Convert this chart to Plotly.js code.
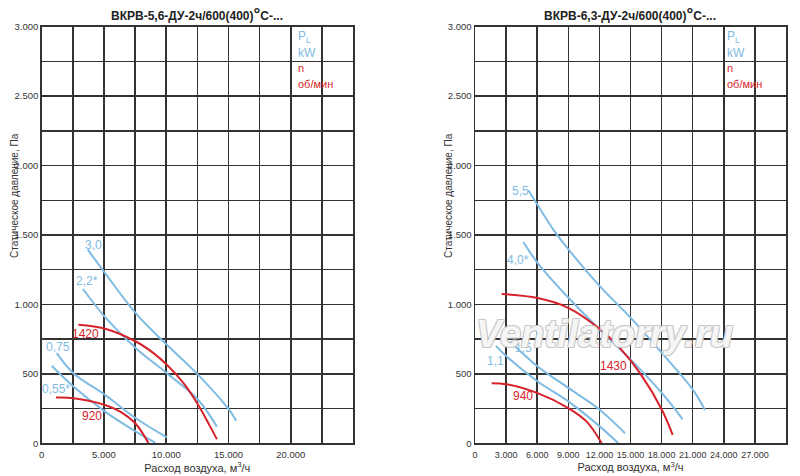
<!DOCTYPE html>
<html>
<head>
<meta charset="utf-8">
<script src="https://cdn.plot.ly/plotly-3.0.1.min.js"></script>
<style>
  html, body { margin: 0; padding: 0; background: #fff; }
  #chart { width: 800px; height: 476px; }
</style>
</head>
<body>
<div id="chart"></div>
<script>
// Left chart: ВКРВ-5,6 (flow m3/h, static pressure Pa)
var p30X  = [3700, 5090, 7560, 10050, 12570, 15060, 15620];
var p30Y  = [1394, 1226, 935, 709, 493, 240, 163];
var p22X  = [3300, 5090, 7560, 10050, 12570, 14070];
var p22Y  = [1113, 909, 685, 505, 312, 120];
var n1420X = [2950, 5090, 7560, 8980, 10050, 11390, 12570, 13530, 14070];
var n1420Y = [853, 825, 733, 649, 565, 433, 276, 120, 29];
var p075X = [1206, 2546, 5090, 7560, 10050];
var p075Y = [649, 505, 349, 180, 43];
var p055X = [804, 2546, 5090, 7560, 9110];
var p055Y = [558, 409, 228, 84, 5];
var n920X = [1150, 2546, 5090, 6300, 7560, 8580];
var n920Y = [329, 325, 276, 228, 139, 0];

// Right chart: ВКРВ-6,3
var p55X  = [5144, 5948, 7555, 9034, 12056, 15046, 18036, 21026, 22180];
var p55Y  = [1822, 1726, 1538, 1394, 1130, 901, 649, 385, 240];
var p40X  = [4662, 6044, 9034, 12056, 15046, 18036, 20030];
var p40Y  = [1450, 1298, 1046, 817, 601, 361, 173];
var n1430X = [2572, 6044, 9034, 12056, 13985, 15914, 18036, 19065];
var n1430Y = [1075, 1046, 974, 822, 685, 505, 240, 60];
var p15X  = [3376, 6044, 9034, 12056, 14467];
var p15Y  = [733, 553, 397, 240, 72];
var p11X  = [2025, 3054, 6044, 9034, 12056, 13825];
var p11Y  = [702, 625, 445, 300, 120, 0];
var n940X = [1608, 3054, 6044, 9034, 10770, 12217];
var n940Y = [433, 425, 361, 252, 156, 0];

// tick labels
var yTickVals = [0, 500, 1000, 1500, 2000, 2500, 3000];
var yTickText = ["0", "500", "1.000", "1.500", "2.000", "2.500", "3.000"];
var x1TickVals = [0, 5000, 10000, 15000, 20000];
var x1TickText = ["0", "5.000", "10.000", "15.000", "20.000"];
var x2TickVals = [0, 3000, 6000, 9000, 12000, 15000, 18000, 21000, 24000, 27000];
var x2TickText = ["0", "3.000", "6.000", "9.000", "12.000", "15.000", "18.000", "21.000", "24.000", "27.000"];

// curve labels
var lab1 = [
  { x: 4150, y: 1430, t: "3,0", c: "blue" },
  { x: 3670, y: 1166, t: "2,2*", c: "blue" },
  { x: 3550, y: 786, t: "1420", c: "red" },
  { x: 1290, y: 692, t: "0,75", c: "blue" },
  { x: 1150, y: 389, t: "0,55*", c: "blue" },
  { x: 4020, y: 197, t: "920", c: "red" }
];
var lab2 = [
  { x: 4340, y: 1817, t: "5,5", c: "blue" },
  { x: 4180, y: 1322, t: "4,0*", c: "blue" },
  { x: 13340, y: 553, t: "1430", c: "red" },
  { x: 4660, y: 685, t: "1,5", c: "blue" },
  { x: 1930, y: 594, t: "1,1", c: "blue" },
  { x: 4600, y: 344, t: "940", c: "red" }
];

var BLUE = "#7fbbe2";
var RED = "#d6232b";
var GRID = "#333333";
var FONT = "'Liberation Sans', Arial, sans-serif";

function curve(x, y, color, xa, ya) {
  return {
    type: "scatter", mode: "lines", x: x, y: y, xaxis: xa, yaxis: ya,
    line: { color: color, width: 2, shape: "spline", smoothing: 1 },
    hoverinfo: "skip", showlegend: false
  };
}

var traces = [
  curve(p30X, p30Y, BLUE, "x", "y"),
  curve(p22X, p22Y, BLUE, "x", "y"),
  curve(p075X, p075Y, BLUE, "x", "y"),
  curve(p055X, p055Y, BLUE, "x", "y"),
  curve(n1420X, n1420Y, RED, "x", "y"),
  curve(n920X, n920Y, RED, "x", "y"),
  curve(p55X, p55Y, BLUE, "x2", "y2"),
  curve(p40X, p40Y, BLUE, "x2", "y2"),
  curve(p15X, p15Y, BLUE, "x2", "y2"),
  curve(p11X, p11Y, BLUE, "x2", "y2"),
  curve(n1430X, n1430Y, RED, "x2", "y2"),
  curve(n940X, n940Y, RED, "x2", "y2")
];

function xAxis(domain, max, minorStep, vals, text, anchor, fs) {
  return {
    domain: domain, range: [0, max], anchor: anchor,
    tickmode: "array", tickvals: vals, ticktext: text, tickangle: 0,
    showgrid: true, gridcolor: GRID, gridwidth: 1.5,
    minor: { dtick: minorStep, tick0: 0, showgrid: true, gridcolor: GRID, gridwidth: 1.5 },
    showline: true, mirror: true, linecolor: GRID, linewidth: 1.5,
    zeroline: false, ticks: "", ticklabelstandoff: 2,
    tickfont: { family: FONT, size: fs, color: "#333" },
    title: { text: "Расход воздуха, м<sup>3</sup>/ч", font: { family: FONT, size: 11, color: "#333" }, standoff: 0 },
    fixedrange: true
  };
}

function yAxis(anchor) {
  return {
    domain: [0.0687, 0.944], range: [0, 3000], anchor: anchor,
    tickmode: "array", tickvals: yTickVals, ticktext: yTickText,
    showgrid: true, gridcolor: GRID, gridwidth: 1.5,
    minor: { dtick: 250, tick0: 0, showgrid: true, gridcolor: GRID, gridwidth: 1.5 },
    showline: true, mirror: true, linecolor: GRID, linewidth: 1.5,
    zeroline: false, ticks: "", ticklabelstandoff: 0,
    tickfont: { family: FONT, size: 9.5, color: "#333" },
    fixedrange: true
  };
}

var annotations = [];

function addLabels(list, xr, yr) {
  list.forEach(function(l) {
    annotations.push({
      x: l.x, y: l.y, xref: xr, yref: yr, text: l.t, showarrow: false,
      xanchor: "center", yanchor: "middle",
      font: { family: FONT, size: 12, color: l.c === "red" ? RED : BLUE }
    });
  });
}
addLabels(lab1, "x", "y");
addLabels(lab2, "x2", "y2");

function addHeader(cx, legX, title, ytx) {
  annotations.push({
    x: cx / 800, y: 1 - 14 / 476, xref: "paper", yref: "paper", showarrow: false,
    xanchor: "center", yanchor: "middle",
    text: "<b>" + title + "</b>",
    font: { family: FONT, size: 12, color: "#222" }
  });
  var leg = [
    { t: "P<sub>L</sub>", y: 37, c: BLUE, s: 12 },
    { t: "kW", y: 53, c: BLUE, s: 12 },
    { t: "n", y: 68, c: RED, s: 11 },
    { t: "об/мин", y: 84, c: RED, s: 11 }
  ];
  leg.forEach(function(l) {
    annotations.push({
      x: legX / 800, y: 1 - l.y / 476, xref: "paper", yref: "paper", showarrow: false,
      xanchor: "left", yanchor: "middle", text: l.t, font: { family: FONT, size: l.s, color: l.c }
    });
  });
  annotations.push({
    x: ytx / 800, y: 1 - 196 / 476, xref: "paper", yref: "paper", showarrow: false,
    xanchor: "center", yanchor: "middle",
    textangle: -90, text: "Статическое давление, Па",
    font: { family: FONT, size: 10, color: "#333" }
  });
}
addHeader(197, 296, "ВКРВ-5,6-ДУ-2ч/600(400)<span style='font-size:17px'>°</span>С-...", 14);
addHeader(630, 725, "ВКРВ-6,3-ДУ-2ч/600(400)<span style='font-size:17px'>°</span>С-...", 448);

// watermark
annotations.push({
  x: 604 / 800, y: 1 - 334 / 476, xref: "paper", yref: "paper", showarrow: false,
  xanchor: "center", yanchor: "middle",
  text: "<b><i>Ventilatorry.ru</i></b>",
  font: { family: FONT, size: 38, color: "rgba(255,255,255,0.85)",
    shadow: "1px 1px 0 #c4c4c4, -1px -1px 0 #c4c4c4, 1px -1px 0 #c4c4c4, -1px 1px 0 #c4c4c4" }
});

var layout = {
  width: 800, height: 476,
  margin: { l: 0, r: 0, t: 0, b: 0 },
  paper_bgcolor: "#fff", plot_bgcolor: "#fff",
  showlegend: false,
  xaxis: xAxis([0.0521, 0.4413], 25000, 2500, x1TickVals, x1TickText, "y", 9.5),
  yaxis: yAxis("x"),
  xaxis2: xAxis([0.5938, 0.9825], 30000, 3000, x2TickVals, x2TickText, "y2", 9),
  yaxis2: yAxis("x2"),
  annotations: annotations
};

Plotly.newPlot("chart", traces, layout, { displayModeBar: false, staticPlot: true });
</script>
</body>
</html>
